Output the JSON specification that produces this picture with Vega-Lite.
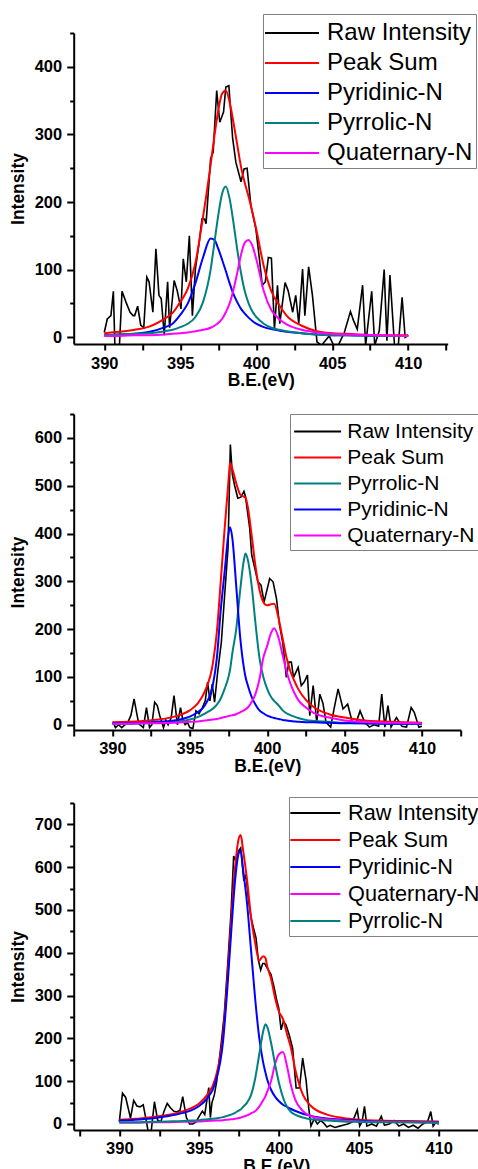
{
  "$schema": "https://vega.github.io/schema/vega-lite/v6.json",
  "padding": {"left": 8.7, "top": 13, "right": 0, "bottom": 0},
  "background": "white",
  "config": {
    "view": {"stroke": null},
    "axis": {"grid": false, "domainColor": "black", "domainWidth": 2, "tickColor": "black", "tickWidth": 2,
      "labelFont": "Liberation Sans", "labelFontWeight": "bold", "labelFontSize": 16.5, "labelColor": "black", "labelPadding": 5, "labelOverlap": false, "labelFlush": false,
      "titleFont": "Liberation Sans", "titleFontWeight": "bold", "titleFontSize": 17.5, "titleColor": "black"},
    "axisX": {"titlePadding": 0},
    "axisY": {"titlePadding": 7},
    "legend": {"title": null, "orient": "none", "symbolStrokeWidth": 2, "labelFont": "Liberation Sans", "labelColor": "black",
      "strokeColor": "#808080", "fillColor": "white", "padding": 3}
  },
  "datasets": {
    "rawA": [
      {"x":390.0,"Raw Intensity":7},{"x":390.2,"Raw Intensity":27},{"x":390.44,"Raw Intensity":32},{"x":390.6,"Raw Intensity":68},{"x":390.7,"Raw Intensity":-12},{"x":391.0,"Raw Intensity":-12},{"x":391.17,"Raw Intensity":68},{"x":391.43,"Raw Intensity":52},{"x":391.7,"Raw Intensity":37},{"x":391.9,"Raw Intensity":32},{"x":392.0,"Raw Intensity":32},{"x":392.2,"Raw Intensity":46},{"x":392.4,"Raw Intensity":18},{"x":392.6,"Raw Intensity":14},{"x":392.8,"Raw Intensity":89},{"x":392.95,"Raw Intensity":82},{"x":393.2,"Raw Intensity":37},{"x":393.4,"Raw Intensity":131},{"x":393.6,"Raw Intensity":62},{"x":393.75,"Raw Intensity":57},{"x":393.95,"Raw Intensity":3},{"x":394.17,"Raw Intensity":82},{"x":394.3,"Raw Intensity":14},{"x":394.6,"Raw Intensity":84},{"x":394.8,"Raw Intensity":69},{"x":395.05,"Raw Intensity":42},{"x":395.2,"Raw Intensity":116},{"x":395.4,"Raw Intensity":82},{"x":395.6,"Raw Intensity":150},{"x":395.8,"Raw Intensity":32},{"x":396.0,"Raw Intensity":101},{"x":396.25,"Raw Intensity":141},{"x":396.43,"Raw Intensity":175},{"x":396.6,"Raw Intensity":175},{"x":396.7,"Raw Intensity":168},{"x":397.0,"Raw Intensity":264},{"x":397.17,"Raw Intensity":274},{"x":397.4,"Raw Intensity":365},{"x":397.6,"Raw Intensity":318},{"x":397.85,"Raw Intensity":333},{"x":398.0,"Raw Intensity":370},{"x":398.2,"Raw Intensity":372},{"x":398.45,"Raw Intensity":294},{"x":398.66,"Raw Intensity":259},{"x":399.0,"Raw Intensity":230},{"x":399.2,"Raw Intensity":249},{"x":399.4,"Raw Intensity":250},{"x":399.65,"Raw Intensity":195},{"x":399.98,"Raw Intensity":160},{"x":400.2,"Raw Intensity":118},{"x":400.4,"Raw Intensity":77},{"x":400.6,"Raw Intensity":82},{"x":400.8,"Raw Intensity":118},{"x":401.0,"Raw Intensity":117},{"x":401.2,"Raw Intensity":12},{"x":401.4,"Raw Intensity":77},{"x":401.55,"Raw Intensity":20},{"x":401.9,"Raw Intensity":81},{"x":402.1,"Raw Intensity":69},{"x":402.4,"Raw Intensity":37},{"x":402.6,"Raw Intensity":62},{"x":402.8,"Raw Intensity":20},{"x":403.05,"Raw Intensity":101},{"x":403.2,"Raw Intensity":32},{"x":403.45,"Raw Intensity":104},{"x":403.7,"Raw Intensity":62},{"x":404.0,"Raw Intensity":-7},{"x":404.3,"Raw Intensity":-12},{"x":404.8,"Raw Intensity":2},{"x":405.1,"Raw Intensity":-12},{"x":405.4,"Raw Intensity":-12},{"x":405.8,"Raw Intensity":7},{"x":406.2,"Raw Intensity":38},{"x":406.4,"Raw Intensity":25},{"x":406.65,"Raw Intensity":12},{"x":407.0,"Raw Intensity":77},{"x":407.2,"Raw Intensity":-12},{"x":407.6,"Raw Intensity":68},{"x":407.8,"Raw Intensity":-12},{"x":408.1,"Raw Intensity":10},{"x":408.42,"Raw Intensity":100},{"x":408.6,"Raw Intensity":-5},{"x":408.8,"Raw Intensity":92},{"x":409.1,"Raw Intensity":-12},{"x":409.35,"Raw Intensity":-12},{"x":409.6,"Raw Intensity":59},{"x":409.8,"Raw Intensity":0},{"x":410.0,"Raw Intensity":3}
    ],
    "fitA": [
      {"x":390,"Peak Sum":6,"Pyridinic-N":3,"Pyrrolic-N":3,"Quaternary-N":2},
      {"x":391,"Peak Sum":8,"Pyridinic-N":4,"Pyrrolic-N":4,"Quaternary-N":2},
      {"x":392,"Peak Sum":11,"Pyridinic-N":5,"Pyrrolic-N":5,"Quaternary-N":3},
      {"x":393,"Peak Sum":16,"Pyridinic-N":8,"Pyrrolic-N":6,"Quaternary-N":3},
      {"x":394,"Peak Sum":28,"Pyridinic-N":15,"Pyrrolic-N":9,"Quaternary-N":4},
      {"x":394.5,"Peak Sum":36,"Pyridinic-N":20,"Pyrrolic-N":11,"Quaternary-N":5},
      {"x":395,"Peak Sum":52,"Pyridinic-N":33,"Pyrrolic-N":15,"Quaternary-N":6},
      {"x":395.5,"Peak Sum":72,"Pyridinic-N":50,"Pyrrolic-N":20,"Quaternary-N":7},
      {"x":396,"Peak Sum":110,"Pyridinic-N":80,"Pyrrolic-N":30,"Quaternary-N":9},
      {"x":396.5,"Peak Sum":178,"Pyridinic-N":118,"Pyrrolic-N":52,"Quaternary-N":11},
      {"x":397,"Peak Sum":255,"Pyridinic-N":146,"Pyrrolic-N":100,"Quaternary-N":14},
      {"x":397.25,"Peak Sum":298,"Pyridinic-N":144,"Pyrrolic-N":140,"Quaternary-N":17},
      {"x":397.5,"Peak Sum":335,"Pyridinic-N":131,"Pyrrolic-N":180,"Quaternary-N":21},
      {"x":397.75,"Peak Sum":360,"Pyridinic-N":115,"Pyrrolic-N":212,"Quaternary-N":27},
      {"x":398,"Peak Sum":365,"Pyridinic-N":98,"Pyrrolic-N":223,"Quaternary-N":37},
      {"x":398.25,"Peak Sum":348,"Pyridinic-N":80,"Pyrrolic-N":205,"Quaternary-N":50},
      {"x":398.5,"Peak Sum":318,"Pyridinic-N":64,"Pyrrolic-N":170,"Quaternary-N":70},
      {"x":398.75,"Peak Sum":285,"Pyridinic-N":52,"Pyrrolic-N":130,"Quaternary-N":95},
      {"x":399,"Peak Sum":252,"Pyridinic-N":42,"Pyrrolic-N":95,"Quaternary-N":122},
      {"x":399.25,"Peak Sum":228,"Pyridinic-N":35,"Pyrrolic-N":68,"Quaternary-N":140},
      {"x":399.5,"Peak Sum":208,"Pyridinic-N":29,"Pyrrolic-N":50,"Quaternary-N":144},
      {"x":399.75,"Peak Sum":185,"Pyridinic-N":24,"Pyrrolic-N":38,"Quaternary-N":135},
      {"x":400,"Peak Sum":160,"Pyridinic-N":20,"Pyrrolic-N":30,"Quaternary-N":116},
      {"x":400.5,"Peak Sum":105,"Pyridinic-N":15,"Pyrrolic-N":20,"Quaternary-N":68},
      {"x":401,"Peak Sum":68,"Pyridinic-N":12,"Pyrrolic-N":14,"Quaternary-N":40},
      {"x":401.5,"Peak Sum":48,"Pyridinic-N":10,"Pyrrolic-N":11,"Quaternary-N":27},
      {"x":402,"Peak Sum":32,"Pyridinic-N":8,"Pyrrolic-N":9,"Quaternary-N":19},
      {"x":403,"Peak Sum":17,"Pyridinic-N":6,"Pyrrolic-N":6,"Quaternary-N":11},
      {"x":404,"Peak Sum":9,"Pyridinic-N":4,"Pyrrolic-N":4,"Quaternary-N":7},
      {"x":405,"Peak Sum":6,"Pyridinic-N":3,"Pyrrolic-N":3,"Quaternary-N":5},
      {"x":406,"Peak Sum":5,"Pyridinic-N":3,"Pyrrolic-N":3,"Quaternary-N":4},
      {"x":408,"Peak Sum":3,"Pyridinic-N":2,"Pyrrolic-N":2,"Quaternary-N":3},
      {"x":410,"Peak Sum":3,"Pyridinic-N":2,"Pyrrolic-N":2,"Quaternary-N":2}
    ],
    "rawB": [
      {"x":390.05,"Raw Intensity":5},{"x":390.2,"Raw Intensity":-6},{"x":390.4,"Raw Intensity":0},{"x":390.6,"Raw Intensity":-6},{"x":391.0,"Raw Intensity":5},{"x":391.2,"Raw Intensity":20},{"x":391.4,"Raw Intensity":54},{"x":391.7,"Raw Intensity":2},{"x":392.0,"Raw Intensity":-6},{"x":392.2,"Raw Intensity":36},{"x":392.4,"Raw Intensity":-6},{"x":392.55,"Raw Intensity":0},{"x":392.73,"Raw Intensity":47},{"x":392.9,"Raw Intensity":40},{"x":393.05,"Raw Intensity":20},{"x":393.3,"Raw Intensity":-6},{"x":393.45,"Raw Intensity":10},{"x":393.6,"Raw Intensity":0},{"x":393.8,"Raw Intensity":15},{"x":393.98,"Raw Intensity":61},{"x":394.2,"Raw Intensity":0},{"x":394.4,"Raw Intensity":36},{"x":394.55,"Raw Intensity":10},{"x":394.7,"Raw Intensity":0},{"x":394.85,"Raw Intensity":5},{"x":395.0,"Raw Intensity":-6},{"x":395.2,"Raw Intensity":-8},{"x":395.4,"Raw Intensity":29},{"x":395.6,"Raw Intensity":23},{"x":395.8,"Raw Intensity":35},{"x":396.0,"Raw Intensity":50},{"x":396.15,"Raw Intensity":89},{"x":396.3,"Raw Intensity":50},{"x":396.45,"Raw Intensity":85},{"x":396.6,"Raw Intensity":47},{"x":396.8,"Raw Intensity":110},{"x":397.04,"Raw Intensity":173},{"x":397.25,"Raw Intensity":271},{"x":397.47,"Raw Intensity":369},{"x":397.62,"Raw Intensity":586},{"x":397.75,"Raw Intensity":523},{"x":397.9,"Raw Intensity":500},{"x":398.1,"Raw Intensity":474},{"x":398.3,"Raw Intensity":476},{"x":398.5,"Raw Intensity":488},{"x":398.6,"Raw Intensity":477},{"x":398.87,"Raw Intensity":411},{"x":399.0,"Raw Intensity":355},{"x":399.2,"Raw Intensity":327},{"x":399.4,"Raw Intensity":299},{"x":399.6,"Raw Intensity":292},{"x":399.8,"Raw Intensity":257},{"x":400.06,"Raw Intensity":292},{"x":400.16,"Raw Intensity":306},{"x":400.38,"Raw Intensity":299},{"x":400.6,"Raw Intensity":264},{"x":400.8,"Raw Intensity":208},{"x":401.0,"Raw Intensity":173},{"x":401.24,"Raw Intensity":99},{"x":401.4,"Raw Intensity":131},{"x":401.56,"Raw Intensity":131},{"x":401.7,"Raw Intensity":99},{"x":402.0,"Raw Intensity":120},{"x":402.2,"Raw Intensity":82},{"x":402.4,"Raw Intensity":90},{"x":402.6,"Raw Intensity":104},{"x":402.75,"Raw Intensity":19},{"x":402.97,"Raw Intensity":82},{"x":403.2,"Raw Intensity":5},{"x":403.4,"Raw Intensity":64},{"x":403.6,"Raw Intensity":45},{"x":403.8,"Raw Intensity":5},{"x":404.1,"Raw Intensity":-5},{"x":404.3,"Raw Intensity":30},{"x":404.58,"Raw Intensity":75},{"x":404.9,"Raw Intensity":33},{"x":405.2,"Raw Intensity":43},{"x":405.5,"Raw Intensity":5},{"x":405.75,"Raw Intensity":5},{"x":406.0,"Raw Intensity":29},{"x":406.3,"Raw Intensity":5},{"x":406.6,"Raw Intensity":-5},{"x":406.9,"Raw Intensity":0},{"x":407.2,"Raw Intensity":-3},{"x":407.4,"Raw Intensity":64},{"x":407.6,"Raw Intensity":-5},{"x":407.8,"Raw Intensity":40},{"x":408.0,"Raw Intensity":-5},{"x":408.35,"Raw Intensity":15},{"x":408.7,"Raw Intensity":-3},{"x":409.0,"Raw Intensity":-5},{"x":409.3,"Raw Intensity":36},{"x":409.5,"Raw Intensity":26},{"x":409.8,"Raw Intensity":-5},{"x":410.0,"Raw Intensity":-3}
    ],
    "fitB": [
      {"x":390,"Peak Sum":5,"Pyridinic-N":3,"Pyrrolic-N":2,"Quaternary-N":2},
      {"x":391,"Peak Sum":6,"Pyridinic-N":3,"Pyrrolic-N":2,"Quaternary-N":2},
      {"x":392,"Peak Sum":8,"Pyridinic-N":4,"Pyrrolic-N":3,"Quaternary-N":3},
      {"x":393,"Peak Sum":11,"Pyridinic-N":6,"Pyrrolic-N":4,"Quaternary-N":3},
      {"x":394,"Peak Sum":17,"Pyridinic-N":9,"Pyrrolic-N":6,"Quaternary-N":4},
      {"x":394.5,"Peak Sum":22,"Pyridinic-N":12,"Pyrrolic-N":8,"Quaternary-N":5},
      {"x":395,"Peak Sum":30,"Pyridinic-N":17,"Pyrrolic-N":11,"Quaternary-N":6},
      {"x":395.5,"Peak Sum":44,"Pyridinic-N":26,"Pyrrolic-N":16,"Quaternary-N":7},
      {"x":396,"Peak Sum":72,"Pyridinic-N":42,"Pyrrolic-N":24,"Quaternary-N":9},
      {"x":396.5,"Peak Sum":130,"Pyridinic-N":85,"Pyrrolic-N":34,"Quaternary-N":11},
      {"x":396.75,"Peak Sum":195,"Pyridinic-N":140,"Pyrrolic-N":42,"Quaternary-N":12},
      {"x":397,"Peak Sum":300,"Pyridinic-N":240,"Pyrrolic-N":55,"Quaternary-N":14},
      {"x":397.25,"Peak Sum":410,"Pyridinic-N":320,"Pyrrolic-N":75,"Quaternary-N":16},
      {"x":397.5,"Peak Sum":510,"Pyridinic-N":400,"Pyrrolic-N":100,"Quaternary-N":18},
      {"x":397.6,"Peak Sum":548,"Pyridinic-N":413,"Pyrrolic-N":115,"Quaternary-N":19},
      {"x":397.75,"Peak Sum":535,"Pyridinic-N":390,"Pyrrolic-N":150,"Quaternary-N":20},
      {"x":398,"Peak Sum":505,"Pyridinic-N":290,"Pyrrolic-N":200,"Quaternary-N":22},
      {"x":398.25,"Peak Sum":482,"Pyridinic-N":185,"Pyrrolic-N":280,"Quaternary-N":26},
      {"x":398.5,"Peak Sum":477,"Pyridinic-N":118,"Pyrrolic-N":345,"Quaternary-N":30},
      {"x":398.6,"Peak Sum":475,"Pyridinic-N":100,"Pyrrolic-N":358,"Quaternary-N":32},
      {"x":398.75,"Peak Sum":455,"Pyridinic-N":82,"Pyrrolic-N":345,"Quaternary-N":36},
      {"x":399,"Peak Sum":395,"Pyridinic-N":58,"Pyrrolic-N":290,"Quaternary-N":48},
      {"x":399.25,"Peak Sum":330,"Pyridinic-N":42,"Pyrrolic-N":210,"Quaternary-N":65},
      {"x":399.5,"Peak Sum":283,"Pyridinic-N":30,"Pyrrolic-N":140,"Quaternary-N":95},
      {"x":399.75,"Peak Sum":257,"Pyridinic-N":24,"Pyrrolic-N":100,"Quaternary-N":140},
      {"x":400,"Peak Sum":250,"Pyridinic-N":19,"Pyrrolic-N":75,"Quaternary-N":165},
      {"x":400.25,"Peak Sum":252,"Pyridinic-N":16,"Pyrrolic-N":58,"Quaternary-N":192},
      {"x":400.45,"Peak Sum":253,"Pyridinic-N":14,"Pyrrolic-N":50,"Quaternary-N":202},
      {"x":400.75,"Peak Sum":220,"Pyridinic-N":12,"Pyrrolic-N":40,"Quaternary-N":180},
      {"x":401,"Peak Sum":180,"Pyridinic-N":10,"Pyrrolic-N":30,"Quaternary-N":145},
      {"x":401.25,"Peak Sum":140,"Pyridinic-N":9,"Pyrrolic-N":24,"Quaternary-N":112},
      {"x":401.5,"Peak Sum":112,"Pyridinic-N":8,"Pyrrolic-N":20,"Quaternary-N":86},
      {"x":401.75,"Peak Sum":92,"Pyridinic-N":7,"Pyrrolic-N":17,"Quaternary-N":67},
      {"x":402,"Peak Sum":75,"Pyridinic-N":6,"Pyrrolic-N":14,"Quaternary-N":52},
      {"x":402.5,"Peak Sum":52,"Pyridinic-N":5,"Pyrrolic-N":10,"Quaternary-N":36},
      {"x":403,"Peak Sum":37,"Pyridinic-N":5,"Pyrrolic-N":8,"Quaternary-N":25},
      {"x":404,"Peak Sum":22,"Pyridinic-N":4,"Pyrrolic-N":6,"Quaternary-N":15},
      {"x":405,"Peak Sum":15,"Pyridinic-N":3,"Pyrrolic-N":4,"Quaternary-N":9},
      {"x":406,"Peak Sum":10,"Pyridinic-N":3,"Pyrrolic-N":3,"Quaternary-N":6},
      {"x":408,"Peak Sum":6,"Pyridinic-N":2,"Pyrrolic-N":2,"Quaternary-N":4},
      {"x":410,"Peak Sum":4,"Pyridinic-N":2,"Pyrrolic-N":2,"Quaternary-N":3}
    ],
    "rawC": [
      {"x":390.0,"Raw Intensity":5},{"x":390.2,"Raw Intensity":72},{"x":390.4,"Raw Intensity":62},{"x":390.6,"Raw Intensity":30},{"x":390.7,"Raw Intensity":13},{"x":390.9,"Raw Intensity":55},{"x":391.1,"Raw Intensity":42},{"x":391.3,"Raw Intensity":40},{"x":391.5,"Raw Intensity":45},{"x":391.7,"Raw Intensity":5},{"x":391.8,"Raw Intensity":-16},{"x":392.0,"Raw Intensity":-16},{"x":392.2,"Raw Intensity":52},{"x":392.4,"Raw Intensity":9},{"x":392.6,"Raw Intensity":5},{"x":392.8,"Raw Intensity":30},{"x":393.0,"Raw Intensity":48},{"x":393.2,"Raw Intensity":38},{"x":393.4,"Raw Intensity":30},{"x":393.6,"Raw Intensity":28},{"x":393.8,"Raw Intensity":32},{"x":393.97,"Raw Intensity":64},{"x":394.2,"Raw Intensity":15},{"x":394.4,"Raw Intensity":0},{"x":394.6,"Raw Intensity":0},{"x":394.8,"Raw Intensity":5},{"x":395.0,"Raw Intensity":18},{"x":395.2,"Raw Intensity":30},{"x":395.35,"Raw Intensity":22},{"x":395.6,"Raw Intensity":85},{"x":395.7,"Raw Intensity":15},{"x":395.8,"Raw Intensity":50},{"x":395.95,"Raw Intensity":68},{"x":396.1,"Raw Intensity":100},{"x":396.37,"Raw Intensity":185},{"x":396.57,"Raw Intensity":255},{"x":396.8,"Raw Intensity":380},{"x":397.0,"Raw Intensity":497},{"x":397.16,"Raw Intensity":626},{"x":397.3,"Raw Intensity":615},{"x":397.47,"Raw Intensity":638},{"x":397.6,"Raw Intensity":645},{"x":397.8,"Raw Intensity":568},{"x":397.93,"Raw Intensity":583},{"x":398.1,"Raw Intensity":520},{"x":398.25,"Raw Intensity":482},{"x":398.4,"Raw Intensity":458},{"x":398.56,"Raw Intensity":435},{"x":398.7,"Raw Intensity":384},{"x":398.85,"Raw Intensity":360},{"x":398.98,"Raw Intensity":375},{"x":399.1,"Raw Intensity":375},{"x":399.3,"Raw Intensity":362},{"x":399.5,"Raw Intensity":349},{"x":399.7,"Raw Intensity":318},{"x":399.85,"Raw Intensity":290},{"x":399.98,"Raw Intensity":271},{"x":400.13,"Raw Intensity":220},{"x":400.27,"Raw Intensity":240},{"x":400.43,"Raw Intensity":232},{"x":400.64,"Raw Intensity":208},{"x":400.85,"Raw Intensity":177},{"x":401.07,"Raw Intensity":84},{"x":401.28,"Raw Intensity":84},{"x":401.48,"Raw Intensity":154},{"x":401.7,"Raw Intensity":100},{"x":401.86,"Raw Intensity":37},{"x":402.0,"Raw Intensity":-5},{"x":402.2,"Raw Intensity":12},{"x":402.4,"Raw Intensity":0},{"x":402.6,"Raw Intensity":8},{"x":402.8,"Raw Intensity":2},{"x":403.0,"Raw Intensity":-7},{"x":403.2,"Raw Intensity":-3},{"x":403.5,"Raw Intensity":-8},{"x":403.8,"Raw Intensity":-5},{"x":404.0,"Raw Intensity":-3},{"x":404.3,"Raw Intensity":0},{"x":404.6,"Raw Intensity":5},{"x":404.9,"Raw Intensity":33},{"x":405.05,"Raw Intensity":-5},{"x":405.2,"Raw Intensity":5},{"x":405.35,"Raw Intensity":41},{"x":405.5,"Raw Intensity":-5},{"x":405.8,"Raw Intensity":0},{"x":406.1,"Raw Intensity":-5},{"x":406.4,"Raw Intensity":18},{"x":406.6,"Raw Intensity":-3},{"x":406.9,"Raw Intensity":0},{"x":407.2,"Raw Intensity":8},{"x":407.5,"Raw Intensity":-5},{"x":407.8,"Raw Intensity":0},{"x":408.1,"Raw Intensity":-8},{"x":408.4,"Raw Intensity":-3},{"x":408.7,"Raw Intensity":-10},{"x":409.0,"Raw Intensity":0},{"x":409.3,"Raw Intensity":5},{"x":409.5,"Raw Intensity":29},{"x":409.65,"Raw Intensity":-5},{"x":409.8,"Raw Intensity":3},{"x":410.0,"Raw Intensity":0}
    ],
    "fitC": [
      {"x":390,"Peak Sum":10,"Pyridinic-N":8,"Pyrrolic-N":4,"Quaternary-N":3},
      {"x":391,"Peak Sum":12,"Pyridinic-N":10,"Pyrrolic-N":4,"Quaternary-N":3},
      {"x":392,"Peak Sum":16,"Pyridinic-N":13,"Pyrrolic-N":5,"Quaternary-N":4},
      {"x":393,"Peak Sum":21,"Pyridinic-N":18,"Pyrrolic-N":6,"Quaternary-N":4},
      {"x":394,"Peak Sum":30,"Pyridinic-N":26,"Pyrrolic-N":7,"Quaternary-N":5},
      {"x":394.5,"Peak Sum":37,"Pyridinic-N":32,"Pyrrolic-N":8,"Quaternary-N":5},
      {"x":395,"Peak Sum":48,"Pyridinic-N":42,"Pyrrolic-N":9,"Quaternary-N":6},
      {"x":395.5,"Peak Sum":68,"Pyridinic-N":60,"Pyrrolic-N":11,"Quaternary-N":7},
      {"x":396,"Peak Sum":105,"Pyridinic-N":95,"Pyrrolic-N":13,"Quaternary-N":8},
      {"x":396.5,"Peak Sum":210,"Pyridinic-N":195,"Pyrrolic-N":16,"Quaternary-N":9},
      {"x":396.75,"Peak Sum":330,"Pyridinic-N":310,"Pyrrolic-N":19,"Quaternary-N":10},
      {"x":397,"Peak Sum":470,"Pyridinic-N":445,"Pyrrolic-N":22,"Quaternary-N":11},
      {"x":397.25,"Peak Sum":600,"Pyridinic-N":570,"Pyrrolic-N":26,"Quaternary-N":12},
      {"x":397.5,"Peak Sum":670,"Pyridinic-N":635,"Pyrrolic-N":32,"Quaternary-N":14},
      {"x":397.6,"Peak Sum":675,"Pyridinic-N":638,"Pyrrolic-N":34,"Quaternary-N":15},
      {"x":397.75,"Peak Sum":640,"Pyridinic-N":595,"Pyrrolic-N":40,"Quaternary-N":17},
      {"x":398,"Peak Sum":570,"Pyridinic-N":515,"Pyrrolic-N":50,"Quaternary-N":20},
      {"x":398.25,"Peak Sum":482,"Pyridinic-N":405,"Pyrrolic-N":68,"Quaternary-N":25},
      {"x":398.5,"Peak Sum":425,"Pyridinic-N":295,"Pyrrolic-N":105,"Quaternary-N":30},
      {"x":398.75,"Peak Sum":382,"Pyridinic-N":205,"Pyrrolic-N":160,"Quaternary-N":40},
      {"x":399,"Peak Sum":392,"Pyridinic-N":145,"Pyrrolic-N":215,"Quaternary-N":55},
      {"x":399.15,"Peak Sum":388,"Pyridinic-N":120,"Pyrrolic-N":233,"Quaternary-N":65},
      {"x":399.25,"Peak Sum":370,"Pyridinic-N":105,"Pyrrolic-N":228,"Quaternary-N":75},
      {"x":399.5,"Peak Sum":340,"Pyridinic-N":80,"Pyrrolic-N":190,"Quaternary-N":100},
      {"x":399.75,"Peak Sum":295,"Pyridinic-N":64,"Pyrrolic-N":140,"Quaternary-N":140},
      {"x":400,"Peak Sum":262,"Pyridinic-N":53,"Pyrrolic-N":95,"Quaternary-N":163},
      {"x":400.25,"Peak Sum":245,"Pyridinic-N":45,"Pyrrolic-N":62,"Quaternary-N":168},
      {"x":400.5,"Peak Sum":210,"Pyridinic-N":40,"Pyrrolic-N":40,"Quaternary-N":135},
      {"x":400.75,"Peak Sum":177,"Pyridinic-N":35,"Pyrrolic-N":28,"Quaternary-N":90},
      {"x":401,"Peak Sum":130,"Pyridinic-N":31,"Pyrrolic-N":22,"Quaternary-N":58},
      {"x":401.5,"Peak Sum":68,"Pyridinic-N":24,"Pyrrolic-N":15,"Quaternary-N":30},
      {"x":402,"Peak Sum":42,"Pyridinic-N":19,"Pyrrolic-N":11,"Quaternary-N":18},
      {"x":403,"Peak Sum":22,"Pyridinic-N":13,"Pyrrolic-N":8,"Quaternary-N":11},
      {"x":404,"Peak Sum":14,"Pyridinic-N":10,"Pyrrolic-N":6,"Quaternary-N":8},
      {"x":405,"Peak Sum":10,"Pyridinic-N":8,"Pyrrolic-N":5,"Quaternary-N":6},
      {"x":406,"Peak Sum":8,"Pyridinic-N":6,"Pyrrolic-N":4,"Quaternary-N":5},
      {"x":408,"Peak Sum":7,"Pyridinic-N":5,"Pyrrolic-N":4,"Quaternary-N":4},
      {"x":410,"Peak Sum":6,"Pyridinic-N":4,"Pyrrolic-N":3,"Quaternary-N":3}
    ]
  },
  "vconcat": [
    {
      "width": 374, "height": 311,
      "encoding": {
        "x": {"field": "x", "type": "quantitative", "scale": {"domain": [387.99, 412.6], "nice": false, "zero": false},
          "axis": {"title": "B.E.(eV)", "values": [390,392.5,395,397.5,400,402.5,405,407.5,410,412.5], "labelExpr": "datum.value % 5 === 0 ? datum.label : ''", "tickSize": 6}},
        "y": {"field": "y", "type": "quantitative", "scale": {"domain": [-10, 450], "nice": false, "zero": false},
          "axis": {"title": "Intensity", "values": [0,50,100,150,200,250,300,350,400,450], "labelExpr": "datum.value % 100 === 0 ? datum.label : ''", "tickSize": {"condition": {"test": "datum.value % 100 === 0", "value": 7}, "value": 4}}},
        "color": {"field": "series", "type": "nominal",
          "scale": {"domain": ["Raw Intensity", "Peak Sum", "Pyridinic-N", "Pyrrolic-N", "Quaternary-N"], "range": ["#000000", "#ff0000", "#0000ff", "#008080", "#ff00ff"]},
          "legend": {"legendX": 189.3, "legendY": -19, "labelFontSize": 24, "symbolType": "M-1.8,0H1.8", "symbolSize": 900, "symbolOffset": 10, "labelOffset": 19}}
      },
      "layer": [
        {"data": {"name": "rawA"}, "transform": [{"fold": ["Raw Intensity"], "as": ["series", "y"]}], "mark": {"type": "line", "strokeWidth": 1.6, "clip": true}},
        {"data": {"name": "fitA"}, "transform": [{"fold": ["Peak Sum", "Pyridinic-N", "Pyrrolic-N", "Quaternary-N"], "as": ["series", "y"]}], "mark": {"type": "line", "strokeWidth": 2, "interpolate": "monotone"}},
        {"data": {"values": [{"label": "(a)"}]}, "mark": {"type": "text", "font": "Liberation Sans", "fontSize": 32, "fontWeight": "bold", "align": "center", "baseline": "middle"},
          "encoding": {"x": {"datum": 390.2}, "y": {"datum": 404}, "text": {"field": "label"}, "color": {"value": "black"}}}
      ]
    },
    {
      "width": 387, "height": 316,
      "encoding": {
        "x": {"field": "x", "type": "quantitative", "scale": {"domain": [387.5, 412.5], "nice": false, "zero": false},
          "axis": {"title": "B.E.(eV)", "values": [387.5,390,392.5,395,397.5,400,402.5,405,407.5,410,412.5], "labelExpr": "datum.value % 5 === 0 ? datum.label : ''", "tickSize": 6}},
        "y": {"field": "y", "type": "quantitative", "scale": {"domain": [-11, 650], "nice": false, "zero": false},
          "axis": {"title": "Intensity", "values": [0,50,100,150,200,250,300,350,400,450,500,550,600,650], "labelExpr": "datum.value % 100 === 0 ? datum.label : ''", "tickSize": {"condition": {"test": "datum.value % 100 === 0", "value": 7}, "value": 4}}},
        "color": {"field": "series", "type": "nominal",
          "scale": {"domain": ["Raw Intensity", "Peak Sum", "Pyrrolic-N", "Pyridinic-N", "Quaternary-N"], "range": ["#000000", "#ff0000", "#008080", "#0000ff", "#ff00ff"]},
          "legend": {"legendX": 216.3, "legendY": 0, "labelFontSize": 21, "padding": 4, "symbolType": "M-1.895,0H1.895", "symbolSize": 615, "symbolOffset": 10.1, "labelOffset": 16.2}}
      },
      "layer": [
        {"data": {"name": "rawB"}, "transform": [{"fold": ["Raw Intensity"], "as": ["series", "y"]}], "mark": {"type": "line", "strokeWidth": 1.6, "clip": true}},
        {"data": {"name": "fitB"}, "transform": [{"fold": ["Peak Sum", "Pyrrolic-N", "Pyridinic-N", "Quaternary-N"], "as": ["series", "y"]}], "mark": {"type": "line", "strokeWidth": 2, "interpolate": "monotone"}},
        {"data": {"values": [{"label": "(b)"}]}, "mark": {"type": "text", "font": "Liberation Sans", "fontSize": 32, "fontWeight": "bold", "align": "center", "baseline": "middle"},
          "encoding": {"x": {"datum": 390.85}, "y": {"datum": 589}, "text": {"field": "label"}, "color": {"value": "black"}}}
      ]
    },
    {
      "width": 405, "height": 327,
      "title": {"text": " ", "fontSize": 1, "offset": 2},
      "encoding": {
        "x": {"field": "x", "type": "quantitative", "scale": {"domain": [387.145, 412.5], "nice": false, "zero": false},
          "axis": {"title": "B.E.(eV)", "values": [387.5,390,392.5,395,397.5,400,402.5,405,407.5,410,412.5], "labelExpr": "datum.value % 5 === 0 ? datum.label : ''", "tickSize": 6}},
        "y": {"field": "y", "type": "quantitative", "scale": {"domain": [-14, 750], "nice": false, "zero": false},
          "axis": {"title": "Intensity", "values": [0,50,100,150,200,250,300,350,400,450,500,550,600,650,700,750], "labelExpr": "datum.value % 100 === 0 ? datum.label : ''", "tickSize": {"condition": {"test": "datum.value % 100 === 0", "value": 7}, "value": 4}}},
        "color": {"field": "series", "type": "nominal",
          "scale": {"domain": ["Raw Intensity", "Peak Sum", "Pyridinic-N", "Quaternary-N", "Pyrrolic-N"], "range": ["#000000", "#ff0000", "#0000ff", "#ff00ff", "#008080"]},
          "legend": {"legendX": 215.3, "legendY": -6, "labelFontSize": 21.7, "padding": 3, "symbolType": "M-2.146,0H2.146", "symbolSize": 543, "symbolOffset": 10.35, "labelOffset": 19.7}}
      },
      "layer": [
        {"data": {"name": "rawC"}, "transform": [{"fold": ["Raw Intensity"], "as": ["series", "y"]}], "mark": {"type": "line", "strokeWidth": 1.6, "clip": true}},
        {"data": {"name": "fitC"}, "transform": [{"fold": ["Peak Sum", "Pyridinic-N", "Quaternary-N", "Pyrrolic-N"], "as": ["series", "y"]}], "mark": {"type": "line", "strokeWidth": 2, "interpolate": "monotone"}},
        {"data": {"values": [{"label": "(c)"}]}, "mark": {"type": "text", "font": "Liberation Sans", "fontSize": 32, "fontWeight": "bold", "align": "center", "baseline": "middle"},
          "encoding": {"x": {"datum": 390.26}, "y": {"datum": 688}, "text": {"field": "label"}, "color": {"value": "black"}}}
      ]
    }
  ],
  "spacing": 17,
  "resolve": {"scale": {"color": "independent", "x": "independent", "y": "independent"}, "legend": {"color": "independent"}}
}
